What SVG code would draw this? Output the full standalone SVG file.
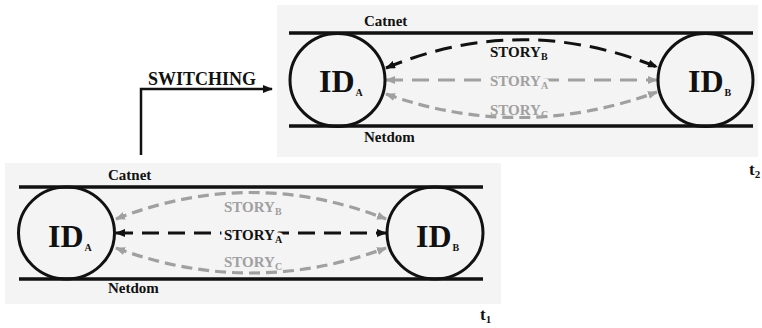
<svg xmlns="http://www.w3.org/2000/svg" width="762" height="328" viewBox="0 0 762 328">
<style>
.panel{fill:#f4f4f4}
.rail{stroke:#111;stroke-width:3.5;fill:none}
.node{fill:none;stroke:#111;stroke-width:3}
.t{font-family:"Liberation Serif","Times New Roman",serif;font-weight:bold;fill:#111}
.g{fill:#a0a0a0}
.lbl{font-size:15px}
.id{font-size:32px}
.sub{font-size:10px}
.dk{stroke:#111;stroke-width:3;fill:none;stroke-dasharray:17 9}
.gr{stroke:#a0a0a0;stroke-width:3.2;fill:none;stroke-dasharray:11 6}
.grs{stroke:#a0a0a0;stroke-width:3;fill:none;stroke-dasharray:17 9}
.halo{stroke:#f4f4f4;stroke-width:7;paint-order:stroke;stroke-linejoin:round}
</style>
<defs>
<marker id="ak" viewBox="0 0 10 8" refX="9" refY="4" markerWidth="10" markerHeight="8" markerUnits="userSpaceOnUse" orient="auto-start-reverse"><path d="M0,0 L10,4 L0,8 Z" fill="#111"/></marker>
<marker id="ag" viewBox="0 0 10 8" refX="9" refY="4" markerWidth="10" markerHeight="8" markerUnits="userSpaceOnUse" orient="auto-start-reverse"><path d="M0,0 L10,4 L0,8 Z" fill="#a0a0a0"/></marker>
</defs>

<!-- panels -->
<rect class="panel" x="277" y="5" width="481" height="152"/>
<rect class="panel" x="5" y="163" width="496" height="141"/>

<!-- rails -->
<line class="rail" x1="289" y1="33" x2="753" y2="33"/>
<line class="rail" x1="289" y1="126" x2="753" y2="126"/>
<line class="rail" x1="19" y1="187" x2="483" y2="187"/>
<line class="rail" x1="19" y1="279" x2="483" y2="279"/>

<text class="t lbl" x="364" y="26">Catnet</text>
<text class="t lbl" x="364" y="142">Netdom</text>
<text class="t lbl" x="108" y="180">Catnet</text>
<text class="t lbl" x="108" y="293">Netdom</text>

<!-- connectors -->
<g id="connectors">
  <path d="M141,155 L141,89 L272,89" fill="none" stroke="#111" stroke-width="2.5" marker-end="url(#ak)"/>
  <!-- t1 -->
  <path class="dk" d="M116,233 L386,233" marker-start="url(#ak)" marker-end="url(#ak)"/>
  <path class="gr" d="M116,219 Q251,166 386,219" marker-start="url(#ag)" marker-end="url(#ag)"/>
  <path class="gr" d="M116,248 Q251,298 386,248" marker-start="url(#ag)" marker-end="url(#ag)"/>
  <!-- t2 -->
  <path class="dk" d="M386,68 Q521,12 657,67" marker-start="url(#ak)" marker-end="url(#ak)"/>
  <path class="grs" d="M386,80 L657,80" marker-start="url(#ag)" marker-end="url(#ag)"/>
  <path class="gr" d="M386,94 Q521,142 657,92" marker-start="url(#ag)" marker-end="url(#ag)"/>
</g>

<!-- connector labels -->
<text class="t" x="148" y="85" font-size="18">SWITCHING</text>
<text class="t lbl g" x="224" y="212">STORY<tspan class="sub" dy="3">B</tspan></text>
<text class="t lbl halo" x="224" y="240">STORY<tspan class="sub" dy="3">A</tspan></text>
<text class="t lbl g" x="224" y="267">STORY<tspan class="sub" dy="3">C</tspan></text>
<text class="t lbl" x="490" y="57">STORY<tspan class="sub" dy="3">B</tspan></text>
<text class="t lbl g halo" x="490" y="86">STORY<tspan class="sub" dy="3">A</tspan></text>
<text class="t lbl g" x="490" y="115">STORY<tspan class="sub" dy="3">C</tspan></text>

<!-- nodes t1 -->
<g id="t1_IDA">
  <ellipse class="node" cx="66.5" cy="233" rx="48" ry="46"/>
  <text class="t id" x="48" y="247">ID<tspan class="sub" font-size="11" dx="1" dy="4">A</tspan></text>
</g>
<g id="t1_IDB">
  <ellipse class="node" cx="435" cy="233" rx="48" ry="46"/>
  <text class="t id" x="416" y="247">ID<tspan class="sub" font-size="11" dx="1" dy="4">B</tspan></text>
</g>
<!-- nodes t2 -->
<g id="t2_IDA">
  <ellipse class="node" cx="337.5" cy="80" rx="47.5" ry="46.5"/>
  <text class="t id" x="319" y="92">ID<tspan class="sub" font-size="11" dx="1" dy="4">A</tspan></text>
</g>
<g id="t2_IDB">
  <ellipse class="node" cx="705.5" cy="80" rx="47.5" ry="46.5"/>
  <text class="t id" x="688" y="92">ID<tspan class="sub" font-size="11" dx="1" dy="4">B</tspan></text>
</g>

<text class="t" x="480" y="320" font-size="17">t<tspan font-size="11" dy="3">1</tspan></text>
<text class="t" x="749" y="175" font-size="17">t<tspan font-size="11" dy="3">2</tspan></text>
</svg>
